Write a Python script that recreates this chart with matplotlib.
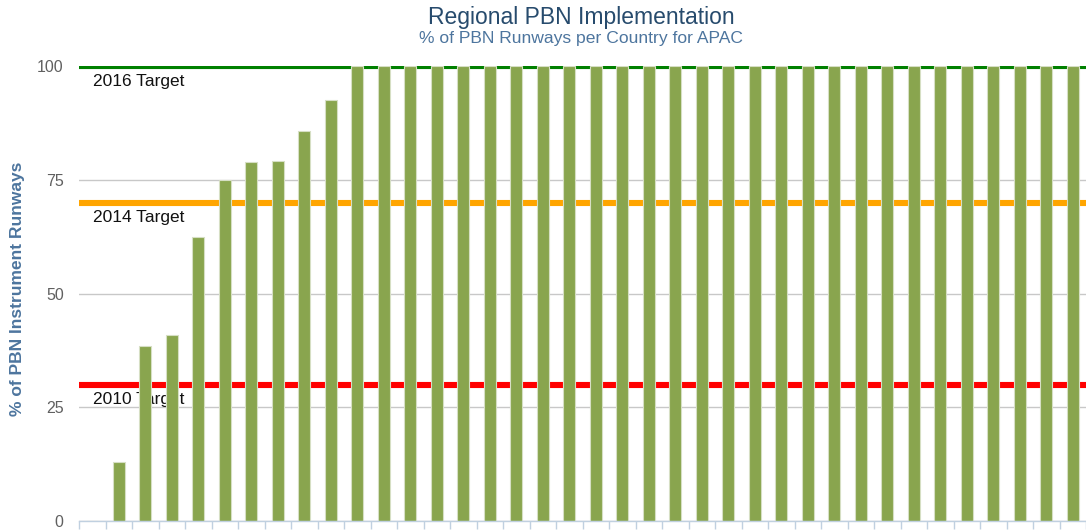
import numpy as np
import matplotlib.pyplot as plt

plt.rcParams['font.family'] = ['Liberation Sans', 'DejaVu Sans']

# share of PBN instrument runways per country (first country has none)
pbn_pct = [0, 13, 38.5, 40.8, 62.5, 75, 78.9, 79.2, 85.7, 92.6] + [100] * 28
targets = [2010, 2014, 2016]
target_vals = [30, 70, 100]
target_colors = ['#FF0000', '#FFA500', '#008000']
yticks = [0, 25, 50, 75, 100]

fig = plt.figure(figsize=(10.86, 5.30), dpi=100)
ax = fig.add_axes([79 / 1086, 9 / 530, 1 - 79 / 1086, 455 / 530])

x = np.arange(len(pbn_pct))
ax.bar(x, pbn_pct, width=0.46, color='#89A54E', edgecolor='#d6dfc4',
       linewidth=0.8, zorder=4)

# target lines and their labels sit behind the bars
for yr, val, col in zip(targets, target_vals, target_colors):
    ax.axhline(val, color=col, lw=4.4, zorder=2)
    ax.text(0.02, val - 3.4, f'{yr} Target', fontsize=12.5, color='#111111',
            va='center', ha='left', zorder=3)

ax.set_xlim(-0.5, (1086 - 92) / 26.8)
ax.set_ylim(0, 100)
ax.set_yticks(yticks)
ax.set_yticklabels([str(v) for v in yticks], fontsize=11.5, color='#606060')
ax.yaxis.grid(True, color='#C8C8C8', lw=1, zorder=0)
ax.set_axisbelow(True)
ax.tick_params(axis='y', length=0, pad=11)

ax.set_xticks(np.arange(len(pbn_pct) + 1) - 0.5)
ax.set_xticklabels([])
ax.tick_params(axis='x', length=6, width=1, color='#C0D0E0', direction='out')

for s in ['top', 'right', 'left']:
    ax.spines[s].set_visible(False)
ax.spines['bottom'].set_color('#C0D0E0')
ax.spines['bottom'].set_linewidth(1)
ax.spines['bottom'].set_zorder(5)

ax.set_ylabel('% of PBN Instrument Runways', fontsize=12.5, fontweight='bold',
              color='#4d759e', va='center')
ax.yaxis.set_label_coords(-61 / 1007, 0.51)

fig.text(0.535, 0.967, 'Regional PBN Implementation', fontsize=16.5,
         color='#274b6d', ha='center', va='center')
fig.text(0.535, 0.928, '% of PBN Runways per Country for APAC', fontsize=12.6,
         color='#4d759e', ha='center', va='center')

fig.savefig('out.png', dpi=100)
